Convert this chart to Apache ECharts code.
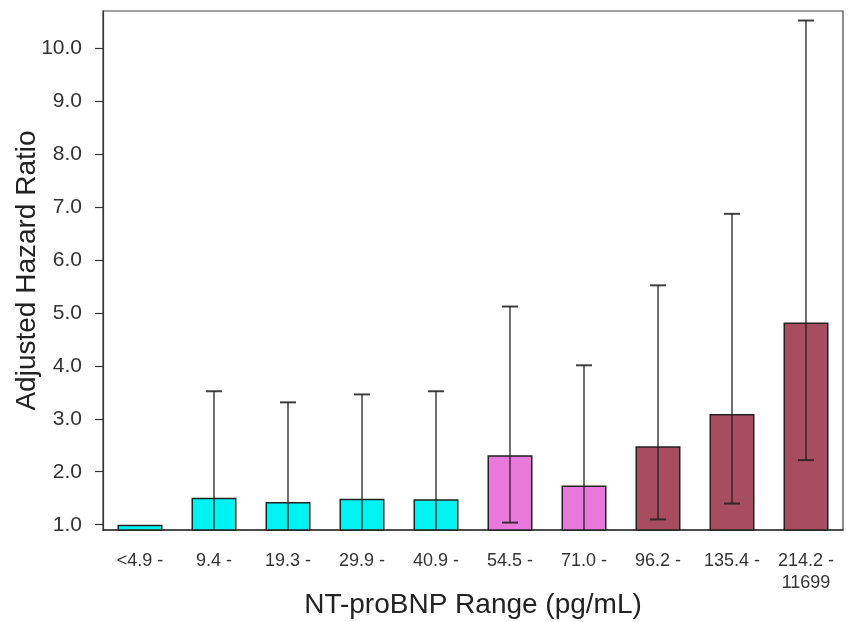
<!DOCTYPE html>
<html>
<head>
<meta charset="utf-8">
<script src="https://cdn.jsdelivr.net/npm/echarts@6/dist/echarts.min.js"></script>
<style>
  html, body { margin: 0; padding: 0; background: #fff; }
  #chart { width: 850px; height: 622px; }
</style>
</head>
<body>
<div id="chart"></div>
<script>
// NT-proBNP ranges (pg/mL)
var categories = ['<4.9 -', '9.4 -', '19.3 -', '29.9 -', '40.9 -', '54.5 -', '71.0 -', '96.2 -', '135.4 -', '214.2 -\n11699'];
// adjusted hazard ratios
var hazardRatio = [1.0, 1.51, 1.43, 1.49, 1.48, 2.31, 1.74, 2.48, 3.09, 4.82];
// 95% CI bounds (first group is the reference, no CI)
var ciLower = [null, 0.6, 0.6, 0.6, 0.6, 1.04, 0.75, 1.1, 1.4, 2.22];
var ciUpper = [null, 3.52, 3.31, 3.46, 3.52, 5.12, 4.01, 5.52, 6.87, 10.52];
// colour group per bar
var barGroup = [0, 0, 0, 0, 0, 1, 1, 2, 2, 2];
var groupColors = ['#00f2f2', '#e878dc', '#a84d5f'];
var yTicks = [1, 2, 3, 4, 5, 6, 7, 8, 9, 10];

var myChart = echarts.init(document.getElementById('chart'));

var barData = hazardRatio.map(function (v, i) {
    return { value: v, itemStyle: { color: groupColors[barGroup[i]] } };
});
var errData = [];
ciUpper.forEach(function (u, i) {
    if (u != null) errData.push([i, ciLower[i], u]);
});

var option = {
    animation: false,
    textStyle: { fontFamily: 'Liberation Sans, Arial, sans-serif' },
    grid: {
        left: 103, right: 7, top: 11, bottom: 92,
        outerBoundsMode: 'none',
        containLabel: false,
        show: true, borderColor: '#444', borderWidth: 1.2
    },
    xAxis: {
        type: 'category',
        data: categories,
        name: 'NT-proBNP Range (pg/mL)',
        nameLocation: 'middle',
        nameGap: 61,
        nameMoveOverlap: false,
        nameTextStyle: { fontSize: 28, color: '#222' },
        axisLine: { lineStyle: { color: '#333', width: 1.5 } },
        axisTick: { alignWithLabel: true, length: 7, lineStyle: { color: '#333', width: 1.2 } },
        axisLabel: { fontSize: 18, color: '#333', margin: 20, lineHeight: 22, interval: 0 }
    },
    yAxis: {
        type: 'value',
        min: 0.9,
        max: 10.7,
        name: 'Adjusted Hazard Ratio',
        nameLocation: 'middle',
        nameGap: 62,
        nameMoveOverlap: false,
        nameTextStyle: { fontSize: 28, color: '#222' },
        splitLine: { show: false },
        axisLine: { show: true, lineStyle: { color: '#333', width: 1.2 } },
        axisTick: { show: true, inside: false, length: 8, customValues: yTicks, lineStyle: { color: '#333', width: 1.2 } },
        axisLabel: {
            fontSize: 21, color: '#333', margin: 21,
            customValues: yTicks,
            formatter: function (v) { return v.toFixed(1); }
        }
    },
    series: [
        {
            type: 'bar',
            data: barData,
            barWidth: 45,
            itemStyle: { borderColor: '#222', borderWidth: 1.5 },
            z: 2
        },
        {
            type: 'custom',
            data: errData,
            z: 3,
            renderItem: function (params, api) {
                var x = api.value(0);
                var top = api.coord([x, api.value(2)]);
                var low = api.coord([x, api.value(1)]);
                var bottomEdge = params.coordSys.y + params.coordSys.height;
                var cap = 8;
                var children = [];
                var yLow = Math.min(low[1], bottomEdge);
                children.push({
                    type: 'line',
                    shape: { x1: top[0], y1: top[1], x2: top[0], y2: yLow },
                    style: { stroke: 'rgba(30,30,30,0.85)', lineWidth: 1.5 }
                });
                children.push({
                    type: 'line',
                    shape: { x1: top[0] - cap, y1: top[1], x2: top[0] + cap, y2: top[1] },
                    style: { stroke: 'rgba(30,30,30,0.85)', lineWidth: 2 }
                });
                if (low[1] < bottomEdge) {
                    children.push({
                        type: 'line',
                        shape: { x1: low[0] - cap, y1: low[1], x2: low[0] + cap, y2: low[1] },
                        style: { stroke: 'rgba(30,30,30,0.85)', lineWidth: 2 }
                    });
                }
                return { type: 'group', children: children };
            }
        }
    ]
};
myChart.setOption(option);
</script>
</body>
</html>
